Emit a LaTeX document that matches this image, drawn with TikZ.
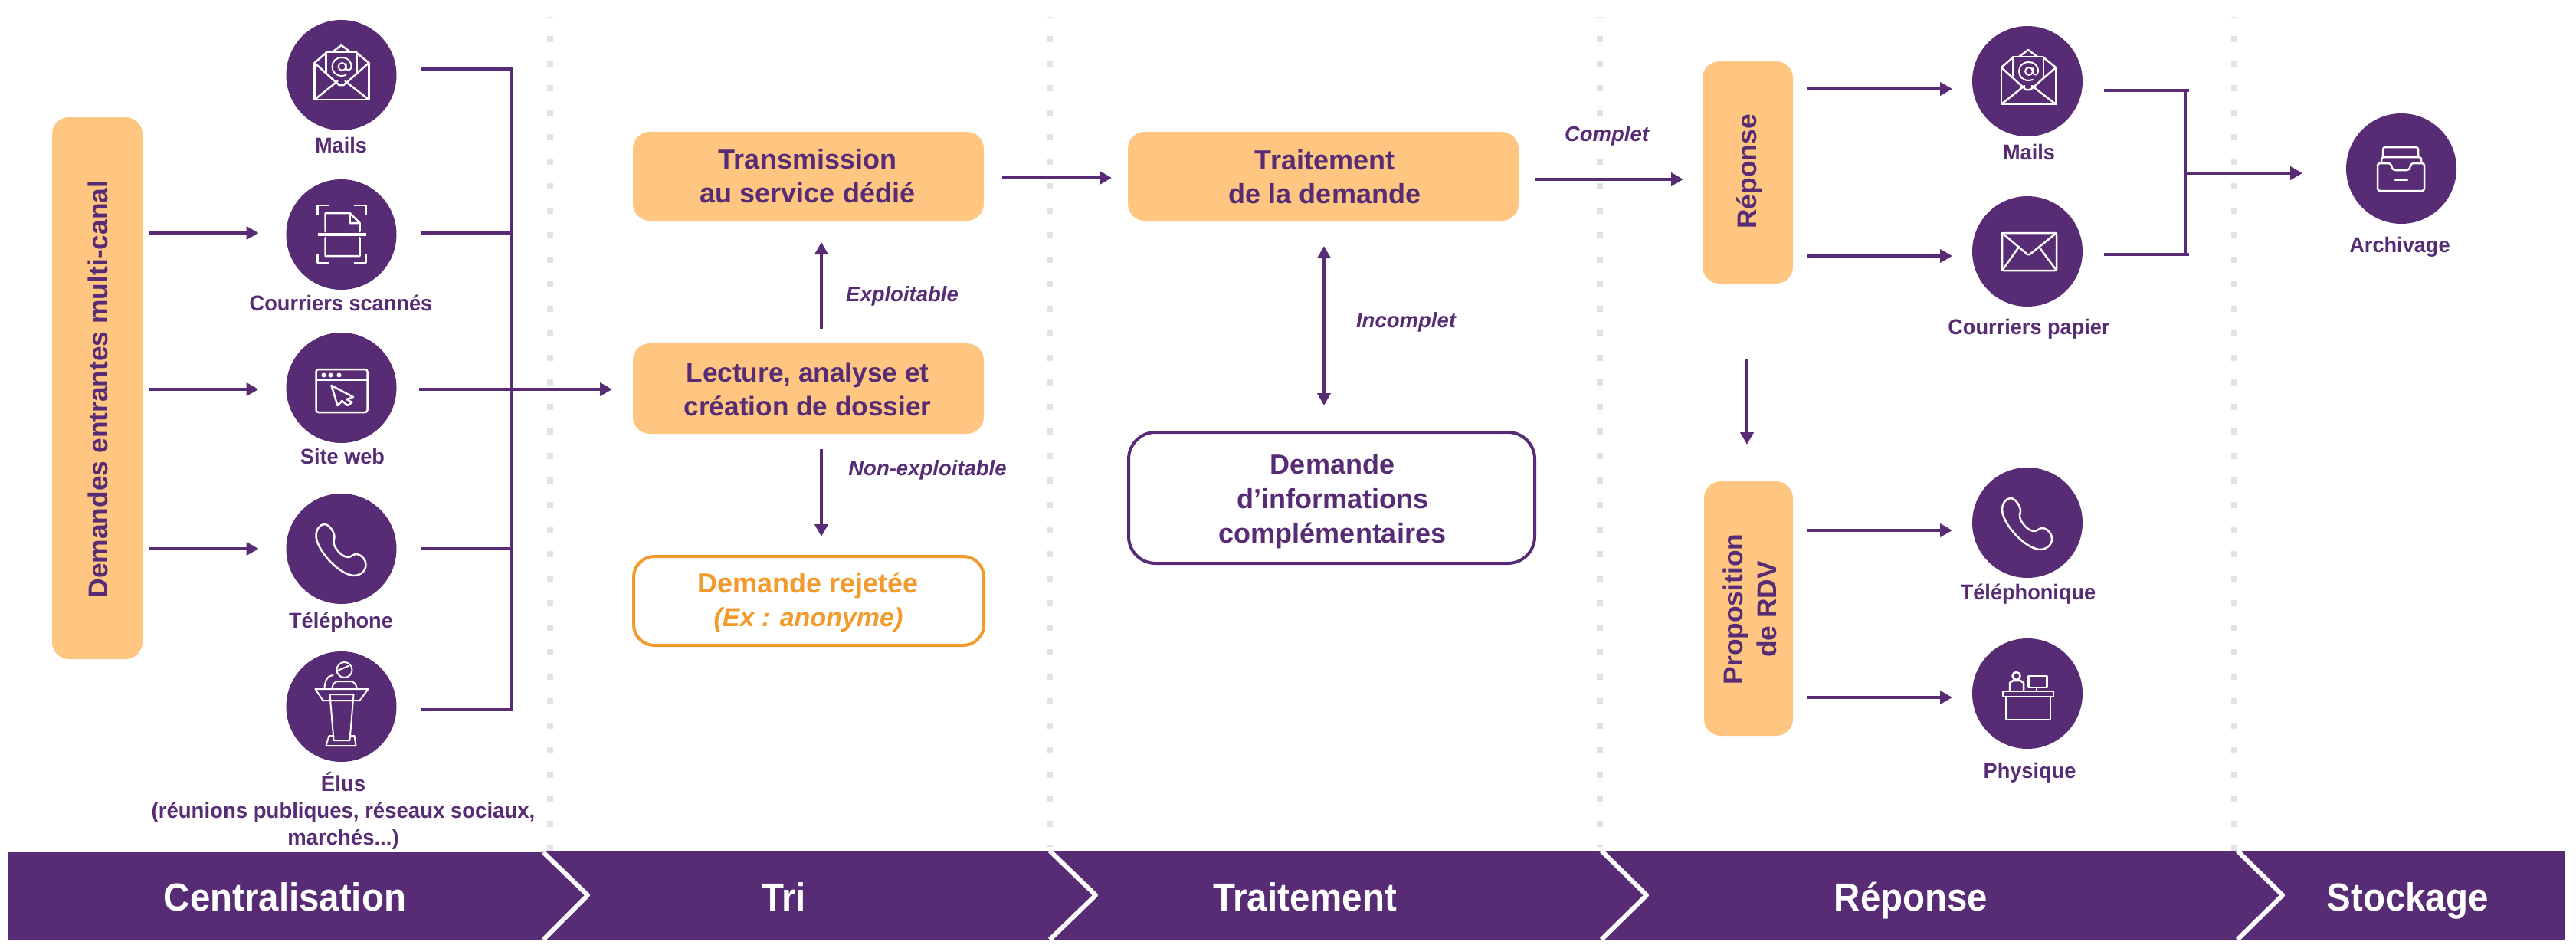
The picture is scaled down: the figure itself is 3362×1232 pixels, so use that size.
\documentclass[tikz,border=0pt]{standalone}
\usepackage{fontspec}
\setmainfont{Liberation Sans}
\newfontfamily\bandf[FakeStretch=0.93]{Liberation Sans}
\newfontfamily\labf[FakeStretch=0.97]{Liberation Sans}
\usetikzlibrary{arrows.meta,calc}
\definecolor{pur}{HTML}{572C74}
\definecolor{org}{HTML}{FEC680}
\definecolor{ordk}{HTML}{F39A2C}
\definecolor{dotc}{HTML}{E3E0EA}
\tikzset{
  x=1pt,y=-1pt,
  ob/.style={fill=org,rounded corners=22pt,inner sep=0pt,outer sep=0pt},
  frame/.style={fill=white,draw=#1,line width=4pt,inner sep=0pt,outer sep=0pt},
  circ/.style={circle,fill=pur,minimum size=144pt,inner sep=0pt,outer sep=0pt},
  maintxt/.style={text=pur,align=center,inner sep=0pt,font=\fontsize{36}{44}\selectfont\bfseries},
  rottxt/.style={text=pur,align=center,inner sep=0pt,rotate=90,font=\fontsize{35.4}{44}\selectfont\bfseries},
  lab/.style={text=pur,align=center,inner sep=0pt,font=\labf\fontsize{28}{35}\selectfont\bfseries},
  ital/.style={text=pur,inner sep=0pt,font=\fontsize{27.5}{33}\selectfont\bfseries\itshape},
  bandtxt/.style={text=white,inner sep=0pt,text height=38pt,text depth=0pt,font=\bandf\fontsize{51}{60}\selectfont\bfseries},
  ln/.style={draw=pur,line width=4pt},
  arr/.style={draw=pur,line width=4pt,-{Triangle[length=16pt,width=17pt]}},
  darr/.style={draw=pur,line width=4pt,{Triangle[length=16pt,width=17pt]}-{Triangle[length=16pt,width=17pt]}},
  icon/.style={draw=white,line width=2.5pt,line join=round,line cap=round},
  chev/.style={draw=white,line width=6pt,line join=round},
}
\newcommand{\icmail}[1]{\begin{scope}[shift={(#1)}]
 \draw[icon] (-35,-16)--(-35,32)--(36,32)--(36,-16);
 \draw[icon] (-35,-16)--(-20,-29) (36,-16)--(20,-29) (-12,-30)--(0,-39)--(12,-30);
 \draw[icon] (-20,-3)--(-20,-30)--(20,-30)--(20,-3);
 \draw[icon] (-35,-16)--(-3,13)--(3,13)--(36,-16);
 \draw[icon] (-35,32)--(-5,8) (36,32)--(5,8);
 \draw[icon,line width=2pt] (1,-11) circle (5);
 \draw[icon,line width=2pt] (6,-15) -- (6,-9) .. controls (7,-5) and (13,-6) .. (13,-11) .. controls (13,-19) and (7,-23) .. (1,-23) .. controls (-7,-23) and (-12,-18) .. (-12,-11) .. controls (-12,-4) and (-7,1) .. (1,1) -- (6,0);
\end{scope}}
\newcommand{\icphone}[1]{\begin{scope}[shift={(#1)}]
 \draw[icon] (-22,-32) .. controls (-16,-32) and (-9,-22) .. (-9,-15) .. controls (-10,-10) and (-11,-8) .. (-8,-2) .. controls (-3,6) and (3,11) .. (9,11) .. controls (13,11) and (16,6) .. (21,7) .. controls (27,9) and (32,14) .. (32,21) .. controls (32,29) and (25,35) .. (16,35) .. controls (-5,33) and (-33,0) .. (-33,-17) .. controls (-33,-25) and (-28,-32) .. (-22,-32) -- cycle;
\end{scope}}
\begin{document}
\begin{tikzpicture}
\useasboundingbox (0,0) rectangle (3362,1232);
\fill[white] (0,0) rectangle (3362,1232);
% separators
\foreach \xx in {718,1370,2088,2916}{
  \foreach \k in {0,...,32}{
    \fill[dotc] ({\xx-4},{47+32*\k}) rectangle ({\xx+4},{55+32*\k});
  }
  \fill[dotc] (\xx-4,22) rectangle (\xx+4,23.5);
}
\foreach \xx in {718,2916}{\fill[dotc] (\xx-4,1103) rectangle (\xx+4,1111);}
\foreach \xx in {1370,2088}{\fill[dotc] (\xx-4,1103) rectangle (\xx+4,1104.5);}
% band
\fill[pur] (10,1112) rectangle (712,1226);
\fill[pur] (709,1110) rectangle (3348,1226);
\draw[chev] (709,1112) -- (767,1168) -- (709,1226);
\draw[chev] (1370,1110) -- (1430,1168) -- (1370,1226);
\draw[chev] (2090,1110) -- (2149,1168) -- (2090,1226);
\draw[chev] (2920,1110) -- (2979,1168) -- (2920,1226);
\foreach \xx in {718,2916}{\fill[dotc] (\xx-4,1103) rectangle (\xx+4,1111);}
\node[bandtxt] (b1) at (372,1169) {Centralisation};
\node[bandtxt] (b2) at (1023,1169) {Tri};
\node[bandtxt] (b3) at (1703,1169) {Traitement};
\node[bandtxt] (b4) at (2494,1169) {Réponse};
\node[bandtxt] (b5) at (3142,1169) {Stockage};
% boxes
\node[ob,minimum width=118pt,minimum height=707pt] (dem) at (127,506.5) {};
\node[rottxt] (demt) at (128,508) {Demandes entrantes multi-canal};
\node[ob,minimum width=458pt,minimum height=116pt] (tr) at (1055,230) {};
\node[maintxt] (trt) at (1054,230) {Transmission\\au service dédié};
\node[ob,minimum width=458pt,minimum height=118pt] (lec) at (1055,507) {};
\node[maintxt,font=\fontsize{35.2}{44}\selectfont\bfseries] (lect) at (1054,508) {Lecture, analyse et\\création de dossier};
\node[frame=ordk,rounded corners=27pt,minimum width=457pt,minimum height=116pt] (rej) at (1055.5,784) {};
\node[maintxt,text=ordk] (rejt) at (1055,786) {Demande rejetée\\{\fontsize{34}{44}\selectfont\itshape (Ex : anonyme)}};
\node[ob,minimum width=510pt,minimum height=116pt] (tt) at (1727,230) {};
\node[maintxt] (ttt) at (1729,231) {Traitement\\de la demande};
\node[frame=pur,rounded corners=35pt,minimum width=530pt,minimum height=171pt] (inf) at (1738,649.5) {};
\node[maintxt,font=\fontsize{36}{45}\selectfont\bfseries] (inft) at (1739,654) {Demande\\d’informations\\complémentaires};
\node[ob,minimum width=118pt,minimum height=290pt] (rep) at (2281,225) {};
\node[rottxt] (rept) at (2283,224) {Réponse};
\node[ob,minimum width=116pt,minimum height=332pt] (prop) at (2282,794) {};
\node[rottxt] (propt) at (2284,795) {Proposition\\de RDV};
% circles
\node[circ] (c1) at (445.5,98) {};
\node[circ] (c2) at (445.5,306) {};
\node[circ] (c3) at (445.5,506) {};
\node[circ] (c4) at (445.5,716) {};
\node[circ] (c5) at (445.5,922) {};
\node[circ] (r1) at (2646,106) {};
\node[circ] (r2) at (2646,328) {};
\node[circ] (r3) at (2646,682) {};
\node[circ] (r4) at (2646,905) {};
\node[circ] (a1) at (3134,220) {};
% labels
\node[lab] (l1) at (445,189) {Mails};
\node[lab] (l2) at (445,395) {Courriers scannés};
\node[lab] (l3) at (447,595) {Site web};
\node[lab] (l4) at (445,812) {Téléphone};
\node[lab,font=\labf\fontsize{28.4}{35}\selectfont\bfseries] (l5) at (448,1058) {Élus\\(réunions publiques, réseaux sociaux,\\marchés...)};
\node[lab] (m1) at (2648,198) {Mails};
\node[lab] (m2) at (2648,429) {Courriers papier};
\node[lab] (m3) at (2647,775) {Téléphonique};
\node[lab] (m4) at (2649,1008) {Physique};
\node[lab] (m5) at (3132,322) {Archivage};
\node[ital] (e1) at (1177.5,386) {Exploitable};
\node[ital] (e2) at (1210.5,613) {Non-exploitable};
\node[ital] (e3) at (1835,420) {Incomplet};
\node[ital] (e4) at (2097,177) {Complet};
% left bus
\coordinate (busT) at (667.5,88);
\coordinate (busB) at (667.5,928);
\draw[ln] (busT) -- (busB);
\draw[ln] ([xshift=31]c1.east |- 0,90) -- (busT |- 0,90);
\draw[ln] ([xshift=31]c2.east |- 0,304) -- (busT |- 0,304);
\draw[ln] ([xshift=31]c4.east |- 0,716) -- (busT |- 0,716);
\draw[ln] ([xshift=31]c5.east |- 0,926) -- (busT |- 0,926);
\draw[arr] ([xshift=29]c3.east |- 0,508) -- ([xshift=-27]lec.west |- 0,508);
% input arrows
\draw[arr] ([xshift=8]dem.east |- 0,304) -- ([xshift=-36]c2.west |- 0,304);
\draw[arr] ([xshift=8]dem.east |- 0,508) -- ([xshift=-36]c3.west |- 0,508);
\draw[arr] ([xshift=8]dem.east |- 0,716) -- ([xshift=-36]c4.west |- 0,716);
% tri
\draw[arr] ([yshift=19]lec.north -| 1072,0) -- ([yshift=-28]tr.south -| 1072,0);
\draw[arr] ([yshift=-20]lec.south -| 1072,0) -- ([yshift=26]rej.north -| 1072,0);
\draw[arr] ([xshift=24]tr.east |- 0,232) -- ([xshift=-21]tt.west |- 0,232);
% traitement
\draw[darr] ([yshift=-33]tt.south -| 1728,0) -- ([yshift=35]inf.north -| 1728,0);
\draw[arr] ([xshift=22]tt.east |- 0,234) -- ([xshift=-25]rep.west |- 0,234);
% reponse
\draw[arr] ([xshift=18]rep.east |- 0,116) -- ([xshift=-26]r1.west |- 0,116);
\draw[arr] ([xshift=18]rep.east |- 0,334) -- ([xshift=-26]r2.west |- 0,334);
\draw[arr] ([yshift=-98]rep.south -| 2280,0) -- ([yshift=48]prop.north -| 2280,0);
\draw[arr] ([xshift=18]prop.east |- 0,692) -- ([xshift=-26]r3.west |- 0,692);
\draw[arr] ([xshift=18]prop.east |- 0,910) -- ([xshift=-26]r4.west |- 0,910);
% right bus
\coordinate (bus2T) at (2852,116);
\coordinate (bus2B) at (2852,334);
\draw[ln] (bus2T) -- (bus2B);
\draw[ln] ([xshift=28]r1.east |- 0,118) -- ([xshift=5]bus2T |- 0,118);
\draw[ln] ([xshift=28]r2.east |- 0,332) -- ([xshift=5]bus2T |- 0,332);
\draw[arr] (bus2T |- 0,226) -- ([xshift=-57]a1.west |- 0,226);
% icons
\icmail{c1.center}
\icmail{2647,104}
\icphone{c4.center}
\icphone{r3.center}
% scanner
\begin{scope}[shift={(c2.center)}]
 \draw[icon,line cap=butt] (-31,-25)--(-31,-38)--(-16,-38) (16,-38)--(32,-38)--(32,-25) (-31,25)--(-31,37)--(-16,37) (16,37)--(32,37)--(32,25);
 \draw[icon] (-21,-4)--(-21,-28)--(11,-28)--(24,-15)--(24,-4) (-21,4)--(-21,28)--(24,28)--(24,4) (11,-28)--(11,-15)--(24,-15);
 \draw[icon,line width=4pt,line cap=butt] (-31,0)--(32,0);
\end{scope}
% web
\begin{scope}[shift={(c3.center)}]
 \draw[icon,rounded corners=3pt] (-33,-24) rectangle (34,32);
 \draw[icon] (-33,-10.5)--(34,-10.5);
 \fill[white] (-23,-16.5) circle (3) (-14,-16.5) circle (3) (-3,-16.5) circle (3);
 \draw[icon] (-13,-3)--(15.5,12)--(7,15)--(14,19)--(8,23)--(1,17)--(-5,23)--cycle;
\end{scope}
% podium
\begin{scope}[shift={(c5.center)}]
 \draw[icon,line width=2pt] (4,-48) circle (10);
 \draw[icon,line width=2pt] (-5,-47)--(9,-53);
 \draw[icon,line width=2pt] (-12,-23) .. controls (-12,-30) and (-8,-33) .. (-4,-33) -- (12,-33) .. controls (17,-33) and (20,-28) .. (20,-23);
 \draw[icon,line width=2pt] (-22,-23) .. controls (-22,-33) and (-18,-41) .. (-11,-41);
 \draw[icon,line width=2pt] (-34,-23)--(35,-23)--(24,-8)--(-24,-8)--cycle;
 \draw[icon,line width=2pt] (-15,-16)--(16,-16)--(11,44)--(-10,44)--cycle;
 \draw[icon,line width=2pt] (-10,38)--(-16,38)--(-20,51)--(19,51)--(17,38)--(11,38);
\end{scope}
% envelope
\begin{scope}[shift={(r2.center)}]
 \draw[icon,rounded corners=2pt] (-33,-24) rectangle (38,25);
 \draw[icon] (-33,-24)--(0,4)--(3,4)--(38,-24);
 \draw[icon] (-33,25)--(-11,-6) (38,25)--(15,-6);
\end{scope}
% desk
\begin{scope}[shift={(r4.center)}]
 \draw[icon] (-31.5,-3) rectangle (34,4);
 \draw[icon] (-28,4)--(-28,34)--(30,34)--(30,4);
 \draw[icon] (1.5,-23) rectangle (25.7,-8);
 \draw[icon] (12,-8)--(12,-3);
 \draw[icon] (-14.5,-23) circle (5);
 \draw[icon] (-23,-3)--(-23,-14)--(-19,-17)--(-9,-17)--(-5,-14)--(-5,-3);
\end{scope}
% archive
\begin{scope}[shift={(a1.center)}]
 \draw[icon,rounded corners=3pt] (-31,-7)--(-31,29)--(30,29)--(30,-7)--(13,-7)--(10,2)--(-11,2)--(-14,-7)--cycle;
 \draw[icon,rounded corners=3pt] (-26,-7)--(-26,-15)--(26,-15)--(26,-7);
 \draw[icon,rounded corners=3pt] (-24,-15)--(-24,-28)--(22,-28)--(22,-15);
 \draw[icon] (-8,15)--(8,15);
\end{scope}
\end{tikzpicture}
\end{document}
